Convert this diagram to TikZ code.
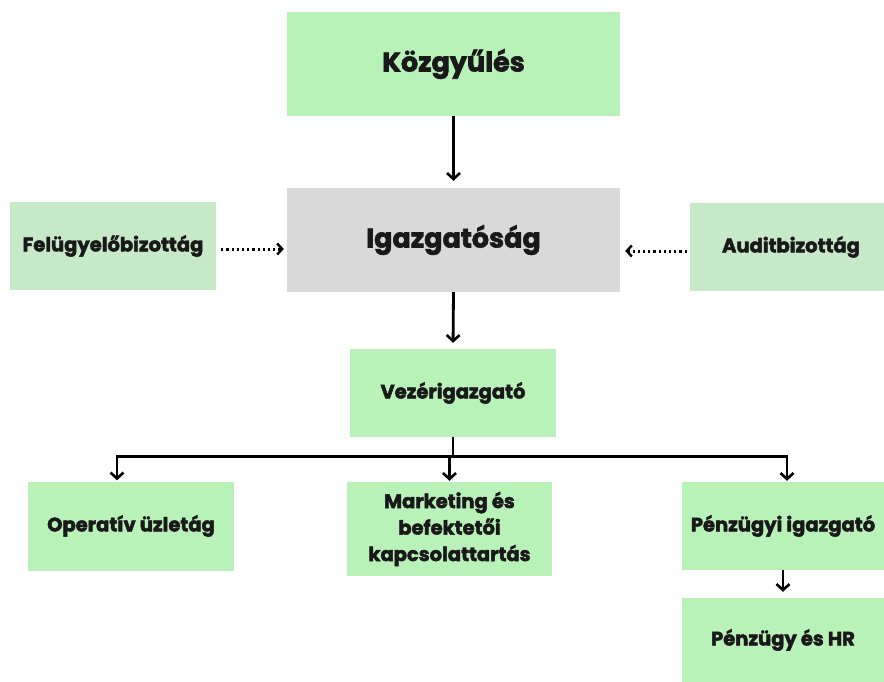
\documentclass[tikz,border=0pt]{standalone}
\usepackage{fontspec}
\setmainfont{Poppins}[BoldFeatures={FakeBold=2.3}]
\usetikzlibrary{arrows.meta,calc}
\definecolor{boxgreen}{HTML}{B9F2B9}
\definecolor{sidegreen}{HTML}{C6E9C7}
\definecolor{boxgray}{HTML}{D9D9D9}
\tikzset{
  box/.style={fill=boxgreen, draw=none, align=center, inner sep=2pt, text=black!90, font=\bfseries\fontsize{19.5}{26.5}\selectfont},
  bigbox/.style={box, minimum width=333pt, minimum height=104pt, font=\bfseries\fontsize{27}{32}\selectfont},
  sidebox/.style={box, fill=sidegreen, minimum height=88pt},
  arr/.style={line width=2.8pt, -{Straight Barb[length=6pt,width=13pt,line width=2.6pt]}},
  dotarr/.style={line width=3pt, dash pattern=on 2.2pt off 3pt, -{Straight Barb[length=5pt,width=11pt,line width=2.4pt]}},
  link/.style={line width=2.8pt}
}
\begin{document}
\begin{tikzpicture}[x=1pt,y=-1pt]
\path[fill=white] (0,0) rectangle (884,682);
\useasboundingbox (0,0) rectangle (884,682);
\node[bigbox] (kozgy) at (453.5,64) {Közgyűlés};
\node[bigbox, fill=boxgray] (igaz) at (453.5,240) {Igazgatóság};
\node[sidebox, minimum width=206pt] (felu) at (113,246) {\raisebox{-3pt}{Felügyelőbizottág}};
\node[sidebox, minimum width=194pt] (audit) at (787,247) {\hspace*{8pt}\raisebox{-3pt}{Auditbizottág}};
\node[box, minimum width=206pt, minimum height=88pt] (vez) at (453,393) {Vezérigazgató};
\node[box, minimum width=206pt, minimum height=89pt] (oper) at (131,526) {Operatív üzletág};
\node[box, minimum width=205pt, minimum height=94pt] (mark) at (449.5,529) {Marketing és\\befektetői\\kapcsolattartás};
\node[box, minimum width=202pt, minimum height=88pt] (penzi) at (783,526) {Pénzügyi igazgató};
\node[box, minimum width=202pt, minimum height=84pt] (penzhr) at (783,640) {Pénzügy és HR};

\draw[arr, shorten >=7pt] (kozgy.south) -- (igaz.north);
\draw[arr, shorten >=6pt] (igaz.south) -- (vez.north);
\draw[dotarr, shorten <=5pt, shorten >=3pt] ([yshift=-3pt]felu.east) -- ([yshift=-3pt]felu.east -| igaz.west);
\draw[dotarr, shorten <=3pt, shorten >=5pt] ([yshift=-4pt]audit.west) -- ([yshift=-4pt]audit.west -| igaz.east);
\coordinate (br) at ($(vez.south)+(0,19)$);
\draw[link] (vez.south) -- (br);
\draw[arr, shorten >=1pt] (br -| mark.north) -- (mark.north);
\draw[arr, shorten >=1pt] (br) -| ([xshift=-14pt]oper.north);
\draw[arr, shorten >=1pt] (br) -| ([xshift=4pt]penzi.north);
\draw[arr, shorten >=6pt] (penzi.south) -- (penzhr.north);
\end{tikzpicture}
\end{document}
